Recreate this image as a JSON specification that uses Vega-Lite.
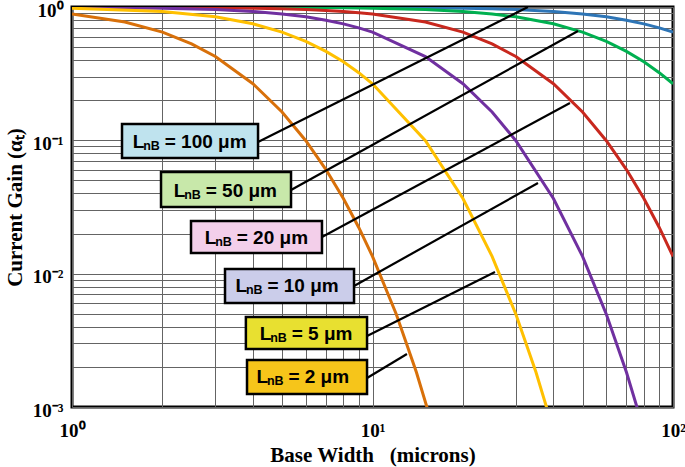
{
  "$schema": "https://vega.github.io/schema/vega-lite/v6.json",
  "width": 601,
  "height": 400,
  "autosize": {"type": "none"},
  "padding": {"left": 72, "top": 7, "right": 12, "bottom": 60},
  "background": "white",
  "config": {
    "view": {"stroke": "black", "strokeWidth": 3},
    "axis": {
      "labelFont": "Liberation Serif",
      "labelFontWeight": "bold",
      "labelFontSize": 19,
      "labelColor": "black",
      "titleFont": "Liberation Serif",
      "titleFontWeight": "bold",
      "titleFontSize": 21,
      "titleColor": "black",
      "gridColor": "#646464",
      "gridWidth": 1,
      "gridOpacity": 1,
      "domain": false,
      "ticks": false,
      "labelFlush": false
    }
  },
  "datasets": {
    "curves": [
      {"L": "100", "W": 1, "a": 0.99995}, {"L": "100", "W": 2, "a": 0.9998}, {"L": "100", "W": 3, "a": 0.99955}, {"L": "100", "W": 4, "a": 0.9992}, {"L": "100", "W": 5, "a": 0.99875}, {"L": "100", "W": 6, "a": 0.9982}, {"L": "100", "W": 7, "a": 0.99755}, {"L": "100", "W": 8, "a": 0.9968}, {"L": "100", "W": 9, "a": 0.99596}, {"L": "100", "W": 10, "a": 0.995}, {"L": "100", "W": 15, "a": 0.98886}, {"L": "100", "W": 20, "a": 0.9803}, {"L": "100", "W": 25, "a": 0.96954}, {"L": "100", "W": 30, "a": 0.9566}, {"L": "100", "W": 40, "a": 0.925}, {"L": "100", "W": 50, "a": 0.8868}, {"L": "100", "W": 60, "a": 0.8435}, {"L": "100", "W": 70, "a": 0.7967}, {"L": "100", "W": 80, "a": 0.7477}, {"L": "100", "W": 90, "a": 0.6978}, {"L": "100", "W": 100, "a": 0.6481},
      {"L": "50", "W": 1, "a": 0.9998}, {"L": "50", "W": 2, "a": 0.9992}, {"L": "50", "W": 3, "a": 0.9982}, {"L": "50", "W": 4, "a": 0.9968}, {"L": "50", "W": 5, "a": 0.995}, {"L": "50", "W": 6, "a": 0.9928}, {"L": "50", "W": 7, "a": 0.9903}, {"L": "50", "W": 8, "a": 0.9873}, {"L": "50", "W": 9, "a": 0.984}, {"L": "50", "W": 10, "a": 0.9803}, {"L": "50", "W": 15, "a": 0.9566}, {"L": "50", "W": 20, "a": 0.925}, {"L": "50", "W": 25, "a": 0.8868}, {"L": "50", "W": 30, "a": 0.8435}, {"L": "50", "W": 40, "a": 0.7477}, {"L": "50", "W": 50, "a": 0.6481}, {"L": "50", "W": 60, "a": 0.5523}, {"L": "50", "W": 70, "a": 0.4649}, {"L": "50", "W": 80, "a": 0.388}, {"L": "50", "W": 90, "a": 0.3218}, {"L": "50", "W": 100, "a": 0.2658},
      {"L": "20", "W": 1, "a": 0.99875}, {"L": "20", "W": 2, "a": 0.995}, {"L": "20", "W": 3, "a": 0.98886}, {"L": "20", "W": 4, "a": 0.9803}, {"L": "20", "W": 5, "a": 0.96954}, {"L": "20", "W": 6, "a": 0.9566}, {"L": "20", "W": 7, "a": 0.94172}, {"L": "20", "W": 8, "a": 0.925}, {"L": "20", "W": 9, "a": 0.90664}, {"L": "20", "W": 10, "a": 0.8868}, {"L": "20", "W": 15, "a": 0.7724}, {"L": "20", "W": 20, "a": 0.6481}, {"L": "20", "W": 25, "a": 0.5295}, {"L": "20", "W": 30, "a": 0.4251}, {"L": "20", "W": 40, "a": 0.2658}, {"L": "20", "W": 50, "a": 0.1631}, {"L": "20", "W": 60, "a": 0.09933}, {"L": "20", "W": 70, "a": 0.06034}, {"L": "20", "W": 80, "a": 0.03662}, {"L": "20", "W": 90, "a": 0.02222}, {"L": "20", "W": 100, "a": 0.01348},
      {"L": "10", "W": 1, "a": 0.995}, {"L": "10", "W": 2, "a": 0.9803}, {"L": "10", "W": 3, "a": 0.9566}, {"L": "10", "W": 4, "a": 0.925}, {"L": "10", "W": 5, "a": 0.8868}, {"L": "10", "W": 6, "a": 0.8435}, {"L": "10", "W": 7, "a": 0.7967}, {"L": "10", "W": 8, "a": 0.7477}, {"L": "10", "W": 9, "a": 0.6978}, {"L": "10", "W": 10, "a": 0.6481}, {"L": "10", "W": 15, "a": 0.4251}, {"L": "10", "W": 20, "a": 0.2658}, {"L": "10", "W": 25, "a": 0.1631}, {"L": "10", "W": 30, "a": 0.09933}, {"L": "10", "W": 40, "a": 0.03662}, {"L": "10", "W": 50, "a": 0.01348}, {"L": "10", "W": 60, "a": 0.004957}, {"L": "10", "W": 70, "a": 0.001824}, {"L": "10", "W": 80, "a": 0.000671},
      {"L": "5", "W": 1, "a": 0.9803}, {"L": "5", "W": 2, "a": 0.925}, {"L": "5", "W": 3, "a": 0.8435}, {"L": "5", "W": 4, "a": 0.7477}, {"L": "5", "W": 5, "a": 0.6481}, {"L": "5", "W": 6, "a": 0.5523}, {"L": "5", "W": 7, "a": 0.4649}, {"L": "5", "W": 8, "a": 0.388}, {"L": "5", "W": 9, "a": 0.3218}, {"L": "5", "W": 10, "a": 0.2658}, {"L": "5", "W": 15, "a": 0.09933}, {"L": "5", "W": 20, "a": 0.03662}, {"L": "5", "W": 25, "a": 0.01348}, {"L": "5", "W": 30, "a": 0.004957}, {"L": "5", "W": 35, "a": 0.001824}, {"L": "5", "W": 40, "a": 0.000671},
      {"L": "2", "W": 1, "a": 0.8868}, {"L": "2", "W": 1.5, "a": 0.7724}, {"L": "2", "W": 2, "a": 0.6481}, {"L": "2", "W": 2.5, "a": 0.5295}, {"L": "2", "W": 3, "a": 0.4251}, {"L": "2", "W": 4, "a": 0.2658}, {"L": "2", "W": 5, "a": 0.1631}, {"L": "2", "W": 6, "a": 0.09933}, {"L": "2", "W": 7, "a": 0.06034}, {"L": "2", "W": 8, "a": 0.03662}, {"L": "2", "W": 9, "a": 0.02222}, {"L": "2", "W": 10, "a": 0.01348}, {"L": "2", "W": 12, "a": 0.004957}, {"L": "2", "W": 14, "a": 0.001824}, {"L": "2", "W": 16, "a": 0.000671}
    ],
    "labels": [
      {"L": "100", "rest": "= 100 μm", "bx1": 1.467, "bx2": 4.16, "by1": 0.1326, "by2": 0.0737, "tx": 1.592, "ty": 0.08805, "lx1": 4.16, "ly1": 0.0972, "lx2": 32.9, "ly2": 1.0},
      {"L": "50", "rest": "= 50 μm", "bx1": 1.978, "bx2": 5.356, "by1": 0.0579, "by2": 0.0316, "tx": 2.18, "ty": 0.03739, "lx1": 5.356, "ly1": 0.0424, "lx2": 48.3, "ly2": 0.661},
      {"L": "20", "rest": "= 20 μm", "bx1": 2.489, "bx2": 6.79, "by1": 0.02483, "by2": 0.01429, "tx": 2.765, "ty": 0.01669, "lx1": 6.79, "ly1": 0.01884, "lx2": 45.4, "ly2": 0.1905},
      {"L": "10", "rest": "= 10 μm", "bx1": 3.23, "bx2": 8.68, "by1": 0.01084, "by2": 0.006026, "tx": 3.498, "ty": 0.007322, "lx1": 8.68, "ly1": 0.00808, "lx2": 35.54, "ly2": 0.04786},
      {"L": "5", "rest": "= 5 μm", "bx1": 3.79, "bx2": 9.59, "by1": 0.004732, "by2": 0.002723, "tx": 4.213, "ty": 0.00318, "lx1": 9.59, "ly1": 0.003408, "lx2": 25.56, "ly2": 0.01029},
      {"L": "2", "rest": "= 2 μm", "bx1": 3.823, "bx2": 9.59, "by1": 0.002252, "by2": 0.001252, "tx": 4.108, "ty": 0.001521, "lx1": 9.59, "ly1": 0.00165, "lx2": 13.02, "ly2": 0.002497}
    ]
  },
  "encoding": {
    "x": {
      "type": "quantitative",
      "scale": {"type": "log", "domain": [1, 100], "nice": false},
      "axis": {
        "title": "Base Width\u00a0\u00a0\u00a0(microns)",
        "values": [1, 2, 3, 4, 5, 6, 7, 8, 9, 10, 20, 30, 40, 50, 60, 70, 80, 90, 100],
        "labelExpr": "datum.value == 1 ? '10⁰' : datum.value == 10 ? '10¹' : datum.value == 100 ? '10²' : ''",
        "labelPadding": 14,
        "titlePadding": 4
      }
    },
    "y": {
      "type": "quantitative",
      "scale": {"type": "log", "domain": [0.001, 1], "nice": false},
      "axis": {
        "title": "Current Gain (αₜ)",
        "values": [0.001, 0.002, 0.003, 0.004, 0.005, 0.006, 0.007, 0.008, 0.009, 0.01, 0.02, 0.03, 0.04, 0.05, 0.06, 0.07, 0.08, 0.09, 0.1, 0.2, 0.3, 0.4, 0.5, 0.6, 0.7, 0.8, 0.9, 1],
        "labelExpr": "datum.value == 1 ? '10⁰' : datum.value == 0.1 ? '10⁻¹' : datum.value == 0.01 ? '10⁻²' : datum.value == 0.001 ? '10⁻³' : ''",
        "labelPadding": 9,
        "labelOffset": 3,
        "titlePadding": 7
      }
    }
  },
  "layer": [
    {
      "data": {"name": "curves"},
      "mark": {"type": "line", "strokeWidth": 3, "clip": true},
      "encoding": {
        "x": {"field": "W"},
        "y": {"field": "a"},
        "stroke": {
          "field": "L", "type": "nominal",
          "scale": {"domain": ["100", "50", "20", "10", "5", "2"], "range": ["#2E75B6", "#00B050", "#C8281E", "#7030A0", "#FFC000", "#D8700A"]},
          "legend": null
        }
      }
    },
    {
      "data": {"name": "labels"},
      "mark": {"type": "rule", "color": "black", "strokeWidth": 2.2, "clip": true},
      "encoding": {
        "x": {"field": "lx1"},
        "x2": {"field": "lx2"},
        "y": {"field": "ly1"},
        "y2": {"field": "ly2"}
      }
    },
    {
      "data": {"name": "labels"},
      "mark": {"type": "rect", "stroke": "black", "strokeWidth": 2.5},
      "encoding": {
        "x": {"field": "bx1"},
        "x2": {"field": "bx2"},
        "y": {"field": "by1"},
        "y2": {"field": "by2"},
        "fill": {
          "field": "L", "type": "nominal",
          "scale": {"domain": ["100", "50", "20", "10", "5", "2"], "range": ["#BFE3EE", "#C8E8AA", "#F3CFEA", "#CBCDEA", "#E8E030", "#F6C51A"]},
          "legend": null
        }
      }
    },
    {
      "data": {"name": "labels"},
      "mark": {"type": "text", "text": "L", "align": "left", "baseline": "alphabetic", "font": "Liberation Sans", "fontWeight": "bold", "fontSize": 19, "color": "black"},
      "encoding": {
        "x": {"field": "tx"},
        "y": {"field": "ty"}
      }
    },
    {
      "data": {"name": "labels"},
      "mark": {"type": "text", "text": "nB", "align": "left", "baseline": "alphabetic", "dx": 10.5, "dy": 2, "font": "Liberation Sans", "fontWeight": "bold", "fontSize": 12.5, "color": "black"},
      "encoding": {
        "x": {"field": "tx"},
        "y": {"field": "ty"}
      }
    },
    {
      "data": {"name": "labels"},
      "mark": {"type": "text", "align": "left", "baseline": "alphabetic", "dx": 32, "font": "Liberation Sans", "fontWeight": "bold", "fontSize": 19, "color": "black"},
      "encoding": {
        "text": {"field": "rest"},
        "x": {"field": "tx"},
        "y": {"field": "ty"}
      }
    }
  ]
}
